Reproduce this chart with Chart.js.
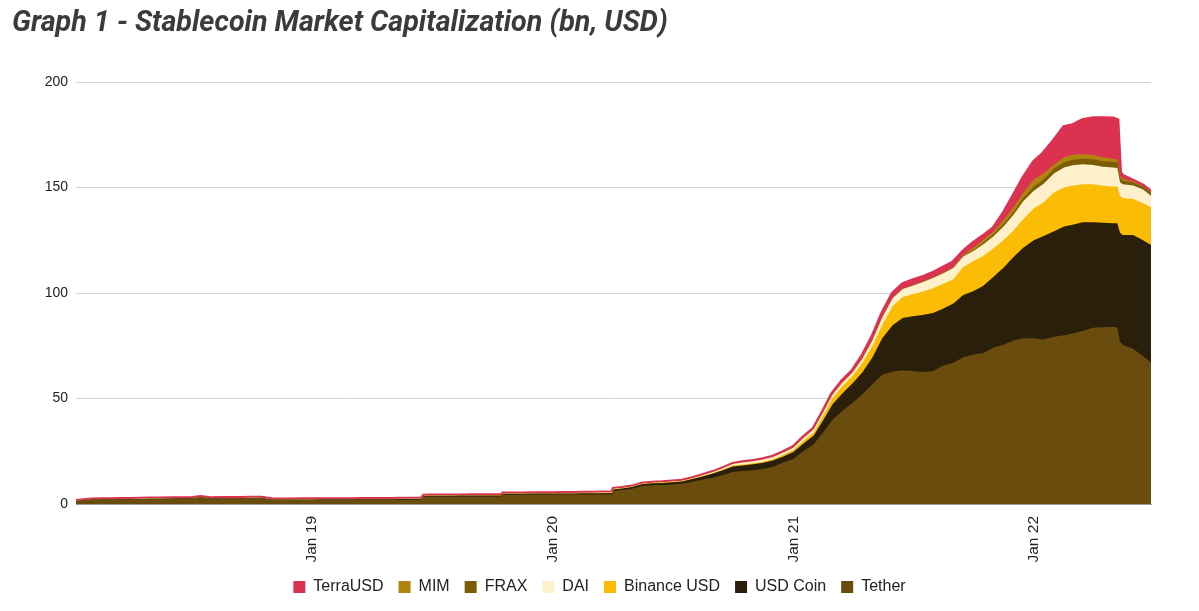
<!DOCTYPE html>
<html>
<head>
<meta charset="utf-8">
<script src="https://cdn.jsdelivr.net/npm/chart.js@4.4.1/dist/chart.umd.min.js"></script>
<style>
html,body{margin:0;padding:0;background:#ffffff;}
#wrap{width:1199px;height:611px;position:relative;overflow:hidden;}
canvas{display:block;position:absolute;left:0;top:0;}
#title{position:absolute;left:12px;top:4px;margin:0;font-family:Roboto,'Noto Sans',sans-serif;font-weight:700;font-style:italic;
  font-size:28.7px;line-height:34px;color:#3b3b3b;white-space:nowrap;z-index:2;}
</style>
</head>
<body>
<div id="wrap">
<canvas id="c" width="1199" height="611" style="width:1199px;height:611px"></canvas>
<h1 id="title">Graph 1 - Stablecoin Market Capitalization (bn, USD)</h1>
</div>
<script>
// ---- categories (observation dates) ----
const dates = [
  "2018-01-08","2018-01-16","2018-02-01","2018-02-16","2018-03-01","2018-03-16","2018-04-01","2018-04-16","2018-05-01","2018-05-16","2018-06-01","2018-06-16",
  "2018-07-01","2018-07-16","2018-08-01","2018-08-16","2018-09-01","2018-09-16","2018-10-01","2018-10-16","2018-11-01","2018-11-16","2018-12-01","2018-12-16",
  "2019-01-01","2019-01-16","2019-02-01","2019-02-16","2019-03-01","2019-03-16","2019-04-01","2019-04-16","2019-05-01","2019-05-16","2019-06-01","2019-06-16","2019-06-20",
  "2019-07-01","2019-07-16","2019-08-01","2019-08-16","2019-09-01","2019-09-16","2019-10-01","2019-10-16","2019-10-18","2019-11-01","2019-11-16","2019-12-01","2019-12-16",
  "2020-01-01","2020-01-16","2020-02-01","2020-02-16","2020-03-01","2020-03-16","2020-04-01","2020-04-03","2020-04-16","2020-05-01","2020-05-16","2020-06-01","2020-06-16",
  "2020-07-01","2020-07-16","2020-08-01","2020-08-16","2020-09-01","2020-09-16","2020-10-01","2020-10-16","2020-11-01","2020-11-16","2020-12-01","2020-12-16",
  "2021-01-01","2021-01-16","2021-02-01","2021-02-16","2021-03-01","2021-03-16","2021-04-01","2021-04-16","2021-05-01","2021-05-16","2021-06-01","2021-06-16",
  "2021-07-01","2021-07-16","2021-08-01","2021-08-16","2021-09-01","2021-09-16","2021-10-01","2021-10-16","2021-11-01","2021-11-16","2021-12-01","2021-12-16",
  "2022-01-01","2022-01-16","2022-02-01","2022-02-16","2022-03-01","2022-03-16","2022-04-01","2022-04-16","2022-05-01","2022-05-08","2022-05-12","2022-05-16",
  "2022-06-01","2022-06-16","2022-06-28"
];

// ---- x-axis tick labels ----
const tickDates  = ["2019-01-01","2020-01-01","2021-01-01","2022-01-01"];
const tickLabels = ["Jan 19","Jan 20","Jan 21","Jan 22"];
const axisStart = "2018-01-08";
const axisEnd   = "2022-06-28";

// ---- y-axis ticks ----
const yTicks = [0, 50, 100, 150, 200];

// ---- series values (bn USD), one value per date ----
const tether = [
  1.4,1.6,2.1,2.2,2.2,2.3, 2.3,2.4,2.5,2.5,2.6,2.7, 2.7,3.2,2.7,2.8,2.8,2.8, 2.8,2.8,2.0,1.9,1.9,1.9,
  1.9,1.95,1.95,1.95,1.95,2.0, 2.0,2.0,2.0,2.05,2.05,2.1, 3.5,3.5,3.5,3.5,3.55,3.55, 3.55,3.6,3.6,4.4,4.4,4.4, 4.45,4.45,
  4.45,4.45,4.5,4.5,4.5,4.55, 4.6,6.2,6.6,7.2,8.5,8.9, 9.0,9.3,9.6,10.6,11.6,12.5, 13.7,15.2,15.6,16.0,16.6,17.6, 19.5,
  21.3,25.0,28.3,34.3,39.8,44.0, 48.0,52.0,56.7,61.3,62.8,63.3, 63.0,62.6,63.0,65.5,67.0,69.5, 70.8,71.5,74.2,75.5,77.5,78.5,
  78.5,78.0,79.3,80.0,80.8,82.0, 83.5,83.8,84.0,83.5,77.0,75.5, 73.5,70.0,67.0
];
const usdCoin = [
  0,0,0,0,0,0, 0,0,0,0,0,0, 0,0,0,0,0,0, 0.1,0.12,0.15,0.2,0.22,0.25,
  0.25,0.27,0.28,0.28,0.26,0.26, 0.25,0.25,0.3,0.3,0.3,0.3, 0.35,0.4,0.45,0.45,0.45,0.45, 0.45,0.45,0.45,0.47,0.47,0.48, 0.48,0.5,
  0.5,0.5,0.5,0.55,0.55,0.6, 0.65,0.7,0.75,0.8,0.85,0.95, 1.0,1.05,1.1,1.25,1.45,1.9, 2.3,2.6,2.7,2.8,2.9,3.0, 2.9,
  3.3,3.6,4.2,5.8,7.2,8.2, 9.2,10.4,12.7,17.2,22.0,24.8, 26.0,27.0,27.5,27.0,28.0,29.5, 30.0,31.8,33.5,36.5,39.5,43.0,
  46.5,49.0,50.0,51.5,51.5,51.5, 50.0,49.5,49.0,49.5,51.5,52.0, 54.0,55.0,55.8
];
const binanceUsd = [
  0,0,0,0,0,0, 0,0,0,0,0,0, 0,0,0,0,0,0, 0,0,0,0,0,0,
  0,0,0,0,0,0, 0,0,0,0,0,0, 0,0,0,0,0,0.02, 0.03,0.04,0.05,0.05,0.06,0.07, 0.08,0.1,
  0.12,0.15,0.15,0.15,0.16,0.17, 0.17,0.17,0.17,0.17,0.17,0.17, 0.17,0.17,0.18,0.2,0.25,0.3, 0.35,0.4,0.45,0.5,0.55,0.6, 0.8,
  1.0,1.3,1.5,2.2,3.0,3.5, 3.6,4.6,5.5,6.5,9.0,10.0, 10.4,11.0,11.8,11.8,11.5,13.3, 14.2,14.2,13.5,13.0,12.5,13.5,
  15.0,16.0,18.5,18.5,18.5,18.0, 18.0,17.5,17.5,17.5,17.5,17.5, 17.0,17.5,17.8
];
const dai = [
  0.03,0.04,0.05,0.05,0.05,0.06, 0.06,0.06,0.07,0.07,0.07,0.07, 0.07,0.07,0.07,0.07,0.07,0.07, 0.07,0.07,0.07,0.07,0.07,0.07,
  0.08,0.08,0.08,0.08,0.08,0.08, 0.08,0.08,0.08,0.08,0.08,0.08, 0.08,0.08,0.08,0.08,0.08,0.08, 0.08,0.08,0.08,0.08,0.08,0.08, 0.08,0.08,
  0.08,0.08,0.09,0.1,0.1,0.1, 0.1,0.1,0.1,0.1,0.1,0.11, 0.12,0.13,0.15,0.2,0.35,0.45, 0.6,0.8,0.9,0.95,1.0,1.05, 1.1,
  1.1,1.3,1.4,1.5,1.5,1.6, 1.5,2.0,2.6,3.4,3.8,3.8, 4.0,4.5,4.8,5.0,5.3,5.0, 4.8,5.5,5.7,6.5,7.5,8.5,
  8.5,8.8,9.0,9.5,9.8,9.5, 9.2,9.0,9.0,8.8,6.5,6.5, 6.5,6.5,5.5
];
const frax = [
  0,0,0,0,0,0, 0,0,0,0,0,0, 0,0,0,0,0,0, 0,0,0,0,0,0,
  0,0,0,0,0,0, 0,0,0,0,0,0, 0,0,0,0,0,0, 0,0,0,0,0,0, 0,0,
  0,0,0,0,0,0, 0,0,0,0,0,0, 0,0,0,0,0,0, 0,0,0,0,0,0, 0,
  0.05,0.06,0.08,0.1,0.12,0.13, 0.14,0.15,0.16,0.17,0.2,0.22, 0.25,0.26,0.27,0.28,0.3,0.35, 0.4,0.8,1.0,1.2,1.3,1.5,
  1.8,2.0,2.2,2.5,2.6,2.6, 2.7,2.7,2.7,2.7,2.0,1.8, 1.4,1.3,1.3
];
const mim = [
  0,0,0,0,0,0, 0,0,0,0,0,0, 0,0,0,0,0,0, 0,0,0,0,0,0,
  0,0,0,0,0,0, 0,0,0,0,0,0, 0,0,0,0,0,0, 0,0,0,0,0,0, 0,0,
  0,0,0,0,0,0, 0,0,0,0,0,0, 0,0,0,0,0,0, 0,0,0,0,0,0, 0,
  0,0,0,0,0,0, 0,0,0.01,0.02,0.03,0.05, 0.07,0.1,0.15,0.2,0.3,0.5, 1.2,1.4,1.3,2.0,2.2,2.5,
  3.5,3.0,2.0,2.3,2.3,2.3, 2.0,1.8,1.5,1.4,1.0,1.0, 0.4,0.3,0.2
];
const terraUsd = [
  0,0,0,0,0,0, 0,0,0,0,0,0, 0,0,0,0,0,0, 0,0,0,0,0,0,
  0,0,0,0,0,0, 0,0,0,0,0,0, 0,0,0,0,0,0, 0,0,0,0,0,0, 0,0,
  0,0,0,0,0,0, 0,0,0,0,0,0, 0,0,0,0,0,0, 0,0,0.1,0.12,0.15,0.17, 0.18,
  0.2,0.25,0.3,0.45,0.6,0.8, 0.8,1.2,1.6,1.8,1.9,2.0, 2.3,2.0,2.0,2.2,2.2,1.5, 2.2,1.7,1.6,3.0,5.5,7.0,
  8.2,9.5,11.4,14.3,14.0,16.0, 17.4,18.5,19.0,18.5,1.5,1.2, 0.4,0.3,0.2
];

// ---- series names & colours (bottom of stack first) ----
const seriesNames  = ["Tether","USD Coin","Binance USD","DAI","FRAX","MIM","TerraUSD"];
const seriesColors = ["#6b4c0f","#2a1f0b","#fbbc05","#fff0cc","#7b5d05","#b0820e","#dc3252"];
const seriesValues = [tether, usdCoin, binanceUsd, dai, frax, mim, terraUsd];

const tickValues = tickDates.map(d => Date.parse(d));

const datasets = seriesNames.map((name, i) => {
  const isTop = i === seriesNames.length - 1;
  return {
    label: name,
    data: seriesValues[i],
    yAxisID: 'y',
    backgroundColor: seriesColors[i],
    borderColor: isTop ? seriesColors[i] : 'rgba(0,0,0,0)',
    borderWidth: isTop ? 4 : 0,
    fill: 'origin',
    pointRadius: 0,
    pointHoverRadius: 0,
    tension: 0
  };
});

Chart.defaults.font.family = "'Liberation Sans', Arial, sans-serif";
Chart.defaults.color = '#222222';

new Chart(document.getElementById('c'), {
  type: 'line',
  data: { labels: dates.map(d => Date.parse(d)), datasets },
  options: {
    responsive: false,
    animation: false,
    devicePixelRatio: 1,
    layout: { padding: { left: 30, right: 30, top: 82, bottom: 6 } },
    interaction: { mode: 'index', intersect: false },
    plugins: {
      tooltip: { enabled: false },
      title: { display: false },
      legend: {
        position: 'bottom',
        reverse: true,
        labels: {
          boxWidth: 12,
          boxHeight: 12,
          padding: 15,
          color: '#222222',
          font: { size: 16 },
          generateLabels: (chart) => Chart.defaults.plugins.legend.labels.generateLabels(chart)
            .map(l => Object.assign(l, { lineWidth: 0, strokeStyle: 'rgba(0,0,0,0)' }))
        }
      }
    },
    scales: {
      x: {
        type: 'linear',
        min: Date.parse(axisStart),
        max: Date.parse(axisEnd),
        afterBuildTicks: (s) => { s.ticks = tickValues.map(v => ({ value: v })); },
        afterFit: (s) => { s.height = 60; },
        grid: { display: false, drawTicks: false },
        border: { display: true, color: '#9a9a9a', width: 1 },
        ticks: {
          autoSkip: false,
          minRotation: 90,
          maxRotation: 90,
          padding: 12,
          color: '#222222',
          font: { size: 15.5 },
          callback: (v) => { const i = tickValues.indexOf(v); return i >= 0 ? tickLabels[i] : ''; }
        }
      },
      y: {
        position: 'left',
        stacked: true,
        min: 0,
        max: 200,
        afterBuildTicks: (s) => { s.ticks = yTicks.map(v => ({ value: v })); },
        afterFit: (s) => { s.width = 46; },
        grid: { color: '#d2d2d2', lineWidth: 1, drawTicks: false },
        border: { display: false },
        ticks: { padding: 8, color: '#222222', font: { size: 14 } }
      },
      yRight: {
        position: 'right',
        display: true,
        afterFit: (s) => { s.width = 18; },
        grid: { display: false, drawTicks: false },
        border: { display: false },
        ticks: { display: false }
      }
    }
  }
});
</script>
</body>
</html>
